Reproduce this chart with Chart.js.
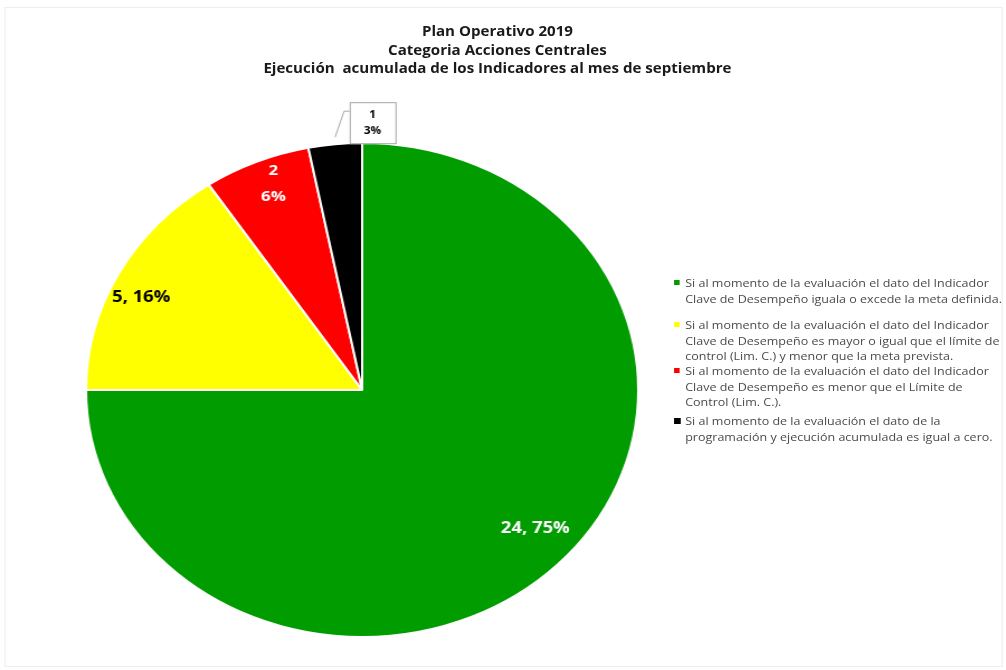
<!DOCTYPE html>
<html>
<head>
<meta charset="utf-8">
<script src="https://cdn.jsdelivr.net/npm/chart.js@4/dist/chart.umd.min.js"></script>
<style>
    html, body { margin: 0; padding: 0; background: #fff; }
    #stage {
        position: relative;
        width: 900px;
        height: 670px;
        transform: scaleX(1.1178);
        transform-origin: 0 0;
        font-family: "Open Sans", sans-serif;
    }
    #frame {
        position: absolute;
        left: 4px; top: 7px; width: 891px; height: 658px;
        border: 1px solid #eeeeee;
    }
    #chart { position: absolute; left: 0; top: 0; }
    #title {
        position: absolute;
        left: 195px; width: 500px; top: 22px;
        text-align: center;
        font-weight: bold;
        font-size: 13.5px;
        line-height: 18.5px;
        color: #1a1a1a;
        white-space: pre;
    }
    .item {
        position: absolute;
        left: 603px;
        font-size: 11.2px;
        line-height: 15.5px;
        color: #4a4a4a;
        white-space: pre;
    }
    .item .mark {
        position: absolute;
        left: 0; top: 5px;
        width: 5px; height: 5px;
    }
    .item .txt { position: absolute; left: 10px; top: 0; }
</style>
</head>
<body>
<div id="stage">
    <div id="frame"></div>
    <canvas id="chart" width="900" height="670"></canvas>
    <div id="title"></div>
</div>
<script>
const titleLines = [
    "Plan Operativo 2019",
    "Categoria Acciones Centrales",
    "Ejecución  acumulada de los Indicadores al mes de septiembre"
];
const categories = [
    "Si al momento de la evaluación el dato del Indicador\nClave de Desempeño iguala o excede la meta definida.",
    "Si al momento de la evaluación el dato del Indicador\nClave de Desempeño es mayor o igual que el límite de\ncontrol (Lim. C.) y menor que la meta prevista.",
    "Si al momento de la evaluación el dato del Indicador\nClave de Desempeño es menor que el Límite de\nControl (Lim. C.).",
    "Si al momento de la evaluación el dato de la\nprogramación y ejecución acumulada es igual a cero."
];
const values = [24, 5, 2, 1];
const colors = ["#009c00", "#ffff00", "#ff0000", "#000000"];

// label look per slice (radius fraction, angle shift in degrees, text colour, layout)
const labelStyle = [
    { r: 0.84, shift: -3.3, color: "#ffffff", mode: "inline" },
    { r: 0.884, shift: -3, color: "#000000", mode: "inline" },
    { r: 0.893, shift: 1.4, color: "#ffffff", mode: "stack" },
    { r: 1.0, shift: 0, color: "#000000", mode: "callout" }
];
const legendTops = [275, 317, 363, 413];

document.querySelector("#title").textContent = titleLines.join("\n");

const stage = document.querySelector("#stage");
categories.forEach((c, i) => {
    const div = document.createElement("div");
    div.className = "item";
    div.style.top = legendTops[i] + "px";
    const mark = document.createElement("div");
    mark.className = "mark";
    mark.style.background = colors[i];
    if (i === 3) {
        mark.style.width = "6px";
        mark.style.height = "6px";
    }
    const txt = document.createElement("div");
    txt.className = "txt";
    txt.textContent = c;
    div.appendChild(mark);
    div.appendChild(txt);
    stage.appendChild(div);
});

const total = values.reduce((a, b) => a + b, 0);

const sliceLabels = {
    id: "sliceLabels",
    afterDatasetsDraw(chart) {
        const ctx = chart.ctx;
        const arcs = chart.getDatasetMeta(0).data;
        ctx.save();
        ctx.textAlign = "center";
        ctx.textBaseline = "middle";
        arcs.forEach((arc, i) => {
            const p = arc.getProps(["x", "y", "startAngle", "endAngle", "outerRadius"], true);
            const st = labelStyle[i];
            const mid = (p.startAngle + p.endAngle) / 2 + st.shift * Math.PI / 180;
            const x = p.x + Math.cos(mid) * p.outerRadius * st.r;
            const y = p.y + Math.sin(mid) * p.outerRadius * st.r;
            const pct = Math.round(values[i] / total * 100) + "%";
            ctx.fillStyle = st.color;
            if (st.mode === "inline") {
                ctx.font = "bold 16.5px 'Open Sans'";
                ctx.fillText(values[i] + ", " + pct, x, y);
            } else if (st.mode === "stack") {
                ctx.font = "bold 15px 'Open Sans'";
                ctx.fillText(values[i], x, y - 13);
                ctx.fillText(pct, x, y + 13);
            } else {
                // callout box above the slice
                const bx = x + 13, by = y - 42, bw = 41, bh = 41;
                ctx.strokeStyle = "#a6a6a6";
                ctx.lineWidth = 1;
                ctx.beginPath();
                ctx.moveTo(x, y - 7);
                ctx.lineTo(bx - 5, by + 9);
                ctx.lineTo(bx, by + 9);
                ctx.stroke();
                ctx.fillStyle = "#ffffff";
                ctx.fillRect(bx, by, bw, bh);
                ctx.strokeRect(bx + 0.5, by + 0.5, bw, bh);
                ctx.fillStyle = st.color;
                ctx.font = "bold 10.5px 'Open Sans'";
                ctx.fillText(values[i], bx + bw / 2, by + 13);
                ctx.fillText(pct, bx + bw / 2, by + 29);
            }
        });
        ctx.restore();
    }
};

const canvas = document.querySelector("#chart");
new Chart(canvas, {
    type: "pie",
    data: {
        labels: categories,
        datasets: [{
            data: values,
            backgroundColor: colors,
            borderColor: "#ffffff",
            borderWidth: 2,
            hoverOffset: 0
        }]
    },
    options: {
        responsive: false,
        animation: false,
        layout: {
            padding: { left: 64, right: 316, top: 142, bottom: 32 }
        },
        plugins: {
            legend: { display: false },
            tooltip: { enabled: false }
        }
    },
    plugins: [sliceLabels]
});
</script>
</body>
</html>
